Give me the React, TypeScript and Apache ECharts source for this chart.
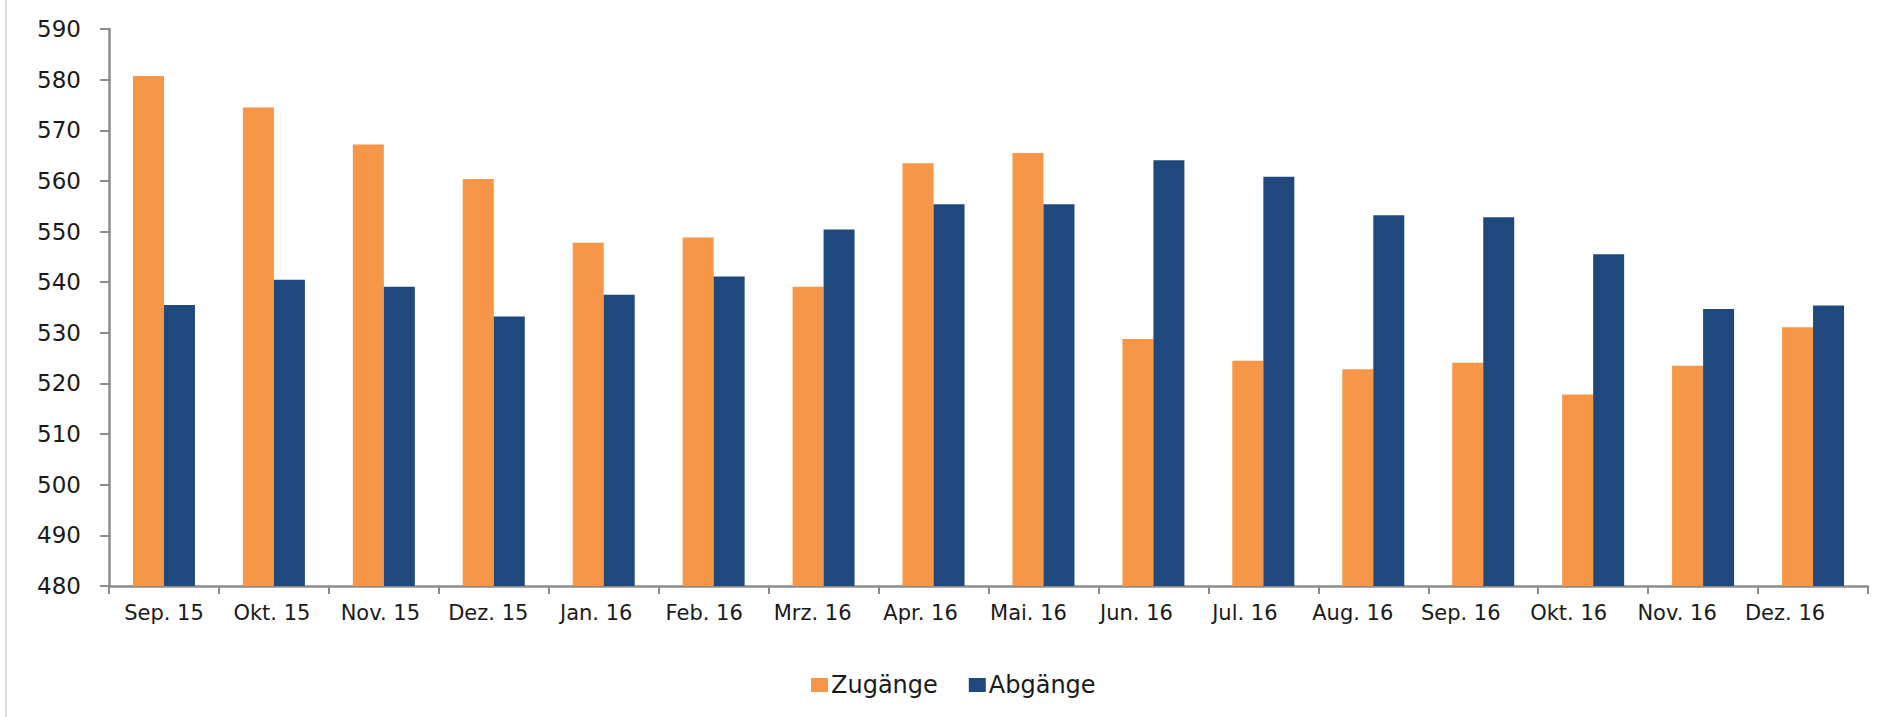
import React, { useEffect, useRef } from "react";
import * as echarts from "echarts";

const categories = [
  "Sep. 15", "Okt. 15", "Nov. 15", "Dez. 15", "Jan. 16", "Feb. 16", "Mrz. 16", "Apr. 16",
  "Mai. 16", "Jun. 16", "Jul. 16", "Aug. 16", "Sep. 16", "Okt. 16", "Nov. 16", "Dez. 16",
];
const zugaenge = [580.7, 574.5, 567.2, 560.4, 547.8, 548.8, 539.1, 563.5, 565.5, 528.8, 524.5, 522.8, 524.1, 517.8, 523.5, 531.1];
const abgaenge = [535.5, 540.5, 539.1, 533.2, 537.5, 541.1, 550.4, 555.4, 555.4, 564.1, 560.8, 553.2, 552.8, 545.5, 534.7, 535.4];
const seriesNames = ["Zugänge", "Abgänge"];
const colors = ["#F79646", "#1F497D"];
const yMin = 480;
const yMax = 590;
const yStep = 10;

const FONT = "DejaVu Sans";
// labels in the original drift slightly left of their category centres
const LABEL_DRIFT = 1.87;

export default function App() {
  const ref = useRef<HTMLDivElement>(null);
  useEffect(() => {
    if (!ref.current) return;
    const chart = echarts.init(ref.current, undefined, { renderer: "svg" });
    const catData = categories.map((c, i) => ({
      value: c,
      textStyle: { padding: [0, Math.round(2 * LABEL_DRIFT * i), 0, 0] },
    }));
    chart.setOption({
      animation: false,
      backgroundColor: "#ffffff",
      grid: { left: 109, right: 21, top: 29, bottom: 131, containLabel: false },
      legend: {
        left: 806,
        top: 668,
        itemWidth: 17,
        itemHeight: 14,
        itemGap: 31,
        icon: "rect",
        textStyle: { fontFamily: FONT, fontSize: 24, color: "#1a1a1a", padding: [0, 0, 0, -2] },
        data: seriesNames,
      },
      graphic: [
        {
          type: "line",
          shape: { x1: 6, y1: 0, x2: 6, y2: 717 },
          style: { stroke: "#dcdcdc", lineWidth: 2 },
        },
      ],
      xAxis: {
        type: "category",
        data: catData,
        boundaryGap: true,
        axisLine: { show: true, lineStyle: { color: "#8c8c8c", width: 2.5 } },
        axisTick: { show: true, length: 8, lineStyle: { color: "#8c8c8c", width: 2 } },
        axisLabel: { fontFamily: FONT, fontSize: 21, color: "#1a1a1a", margin: 16, interval: 0 },
        splitLine: { show: false },
      },
      yAxis: {
        type: "value",
        min: yMin,
        max: yMax,
        interval: yStep,
        axisLine: { show: true, lineStyle: { color: "#8c8c8c", width: 2.5 } },
        axisTick: { show: true, length: 9, lineStyle: { color: "#8c8c8c", width: 2 } },
        axisLabel: { fontFamily: FONT, fontSize: 23, color: "#1a1a1a", margin: 28 },
        splitLine: { show: false },
      },
      series: [
        {
          name: seriesNames[0],
          type: "bar",
          data: zugaenge,
          barWidth: 31,
          barGap: "0%",
          itemStyle: { color: colors[0] },
        },
        {
          name: seriesNames[1],
          type: "bar",
          data: abgaenge,
          barWidth: 31,
          barGap: "0%",
          itemStyle: { color: colors[1] },
        },
      ],
    });
    return () => chart.dispose();
  }, []);
  return (
    <div
      ref={ref}
      style={{ position: "fixed", left: 0, top: 0, width: 1889, height: 717, background: "#fff" }}
    />
  );
}
